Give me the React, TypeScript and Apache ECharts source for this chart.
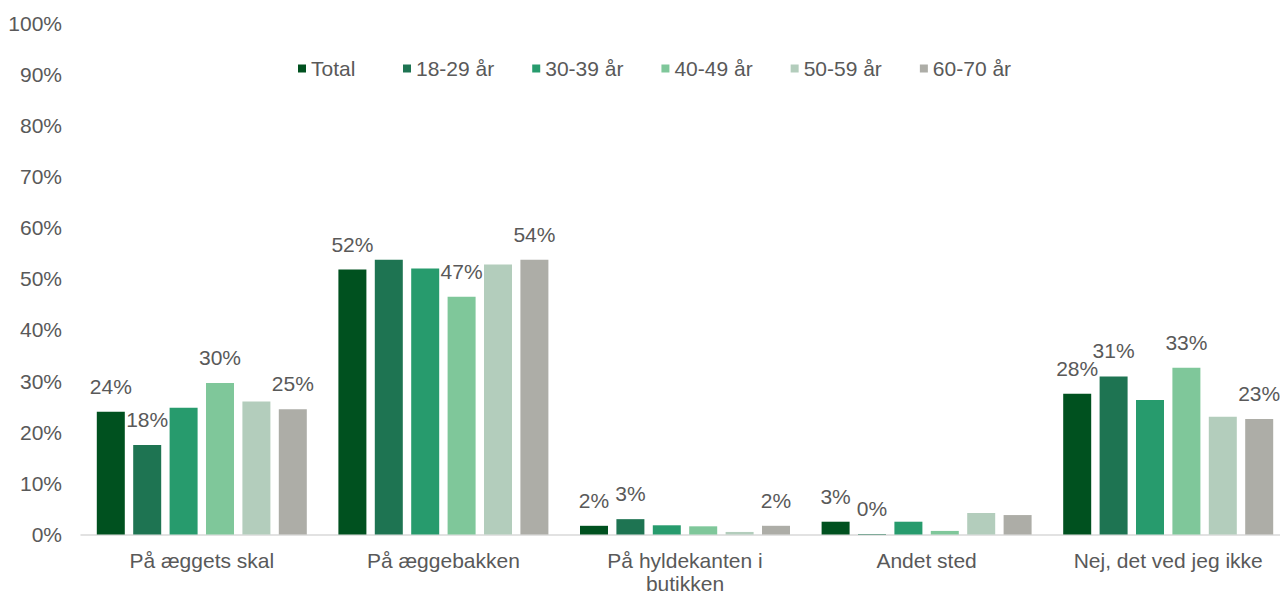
import React, { useEffect, useRef } from "react";
import * as echarts from "echarts";

const categories = [
  "På æggets skal",
  "På æggebakken",
  "På hyldekanten i\nbutikken",
  "Andet sted",
  "Nej, det ved jeg ikke",
];
const seriesNames = ["Total", "18-29 år", "30-39 år", "40-49 år", "50-59 år", "60-70 år"];
const total = [24.0, 51.8, 1.7, 2.5, 27.5];
const age18_29 = [17.5, 53.7, 3.0, 0.1, 30.9];
const age30_39 = [24.8, 52.0, 1.8, 2.5, 26.3];
const age40_49 = [29.6, 46.5, 1.6, 0.7, 32.6];
const age50_59 = [26.0, 52.8, 0.5, 4.2, 23.0];
const age60_70 = [24.5, 53.7, 1.7, 3.8, 22.6];
const showLabels = [
  [true, true, true, true, true],
  [true, false, true, true, true],
  [false, false, false, false, false],
  [true, true, false, false, true],
  [false, false, false, false, false],
  [true, true, true, false, true],
];
const colors = ["#00511F", "#1E7452", "#279B6D", "#7FC79A", "#B3CDBC", "#ADADA7"];
const yTicks = [0, 10, 20, 30, 40, 50, 60, 70, 80, 90, 100];

const allValues = [total, age18_29, age30_39, age40_49, age50_59, age60_70];
const FONT = "'Liberation Sans', Arial, sans-serif";
const TXT = "#595959";
const FS = 21;

export default function App() {
  const ref = useRef<HTMLDivElement>(null);
  useEffect(() => {
    document.body.style.margin = "0";
    document.body.style.overflow = "hidden";
    const chart = echarts.init(ref.current!, undefined, { renderer: "svg" });
    const legendBase = {
      top: 58,
      padding: 0,
      itemWidth: 8,
      itemHeight: 8,
      icon: "rect",
      textStyle: { color: TXT, fontSize: FS, fontFamily: FONT },
    };
    chart.setOption({
      animation: false,
      backgroundColor: "#ffffff",
      textStyle: { fontFamily: FONT },
      legend: [
        { ...legendBase, left: 298, data: [seriesNames[0]] },
        { ...legendBase, left: 403, itemGap: 38, data: seriesNames.slice(1) },
      ],
      grid: {
        left: 81,
        right: 3,
        top: 23,
        bottom: 56.5,
        containLabel: false,
        outerBoundsMode: "none",
      },
      xAxis: {
        type: "category",
        data: categories,
        axisLine: { show: true, lineStyle: { color: "#D9D9D9", width: 1.5 } },
        axisTick: { show: false },
        axisLabel: {
          color: TXT,
          fontSize: FS,
          fontFamily: FONT,
          margin: 14,
          lineHeight: 23,
          interval: 0,
        },
      },
      yAxis: {
        type: "value",
        min: yTicks[0],
        max: yTicks[yTicks.length - 1],
        interval: 10,
        splitLine: { show: false },
        axisLine: { show: false },
        axisTick: { show: false },
        axisLabel: {
          color: TXT,
          fontSize: FS,
          fontFamily: FONT,
          margin: 19,
          formatter: (v: number) => `${v}%`,
        },
      },
      series: seriesNames.map((name, si) => ({
        name,
        type: "bar",
        barWidth: 28,
        barGap: "30%",
        itemStyle: { color: colors[si] },
        label: {
          show: false,
          position: "top",
          distance: 15,
          color: TXT,
          fontSize: FS,
          fontFamily: FONT,
          formatter: (p: any) => `${Math.round(p.value)}%`,
        },
        data: allValues[si].map((v, ci) => ({
          value: v,
          label: { show: showLabels[si][ci] },
        })),
      })),
    });
    return () => chart.dispose();
  }, []);
  return (
    <div
      ref={ref}
      style={{ position: "fixed", left: 0, top: 0, width: 1292, height: 591 }}
    />
  );
}
